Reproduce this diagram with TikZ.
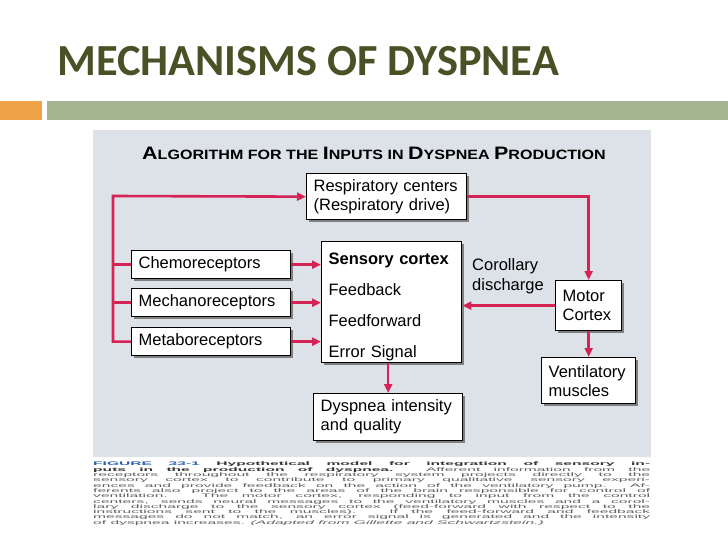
\documentclass[tikz,border=0pt]{standalone}
\usepackage{fontspec}
\setmainfont{Liberation Sans}
\newfontfamily\titlefont{Carlito}
\newfontfamily\headfont[FakeStretch=1.19]{Liberation Sans}
\newfontfamily\capfont[FakeStretch=3.0]{Liberation Sans}
\usetikzlibrary{arrows.meta,shadows}

\definecolor{titleolive}{RGB}{73,82,38}
\definecolor{barorange}{RGB}{240,162,72}
\definecolor{bargreen}{RGB}{165,181,146}
\definecolor{panelgray}{RGB}{220,226,231}
\definecolor{linkred}{RGB}{214,35,85}
\definecolor{figblue}{RGB}{45,95,175}
\definecolor{captext}{RGB}{95,95,95}

\newcommand{\capword}[2]{{\fontsize{18}{18}\selectfont #1}{\fontsize{13.5}{13.5}\selectfont #2}}
\newcommand{\capline}[1]{\makebox[557pt][s]{#1}}

\begin{document}
\begin{tikzpicture}[x=1pt,y=-1pt,
  box/.style={draw=black,line width=1.3pt,fill=white,
    drop shadow={shadow xshift=2pt,shadow yshift=-2pt,fill=black!50,opacity=1},
    font=\fontsize{16.5}{19}\selectfont,align=left,
    inner xsep=7pt,inner ysep=0pt,anchor=north west},
  link/.style={draw=linkred,line width=2.6pt},
  linkarrow/.style={link,-{Triangle[length=9pt,width=8pt]}}]
  \useasboundingbox (0,0) rectangle (728,546);
  \fill[white] (0,0) rectangle (728,546);

  % slide heading and bars
  \node[anchor=base west,inner sep=0,text=titleolive,
    font=\titlefont\bfseries\fontsize{44.4}{44.4}\selectfont] (title) at (57,75)
    {MECHANISMS OF DYSPNEA};
  \fill[barorange] (0,101) rectangle (42,120);
  \fill[bargreen] (47,101) rectangle (728,120);

  % figure panel
  \fill[panelgray] (93,130) rectangle (651,457);
  \node[anchor=base,inner sep=0,font=\headfont\bfseries] (heading) at (374,159)
    {\capword{A}{LGORITHM FOR THE }\capword{I}{NPUTS IN }\capword{D}{YSPNEA }\capword{P}{RODUCTION}};

  \node[box,text width=146pt,minimum height=46pt] (resp) at (306,173)
    {Respiratory centers\\(Respiratory drive)};
  \node[box,text width=126pt,minimum height=121pt,
    font=\fontsize{16.5}{31}\selectfont] (sens) at (321,241)
    {\rule{0pt}{22pt}\textbf{Sensory cortex}\\Feedback\\Feedforward\\Error Signal};
  \node[box,text width=145pt,minimum height=28pt] (chemo) at (131,250) {Chemoreceptors};
  \node[box,text width=145pt,minimum height=28pt] (mech) at (131,288) {Mechanoreceptors};
  \node[box,text width=145pt,minimum height=28pt] (meta) at (131,327) {Metaboreceptors};
  \node[box,text width=52pt,minimum height=50pt] (motor) at (555,280) {Motor\\Cortex};
  \node[box,text width=80pt,minimum height=46pt] (vent) at (541,357) {Ventilatory\\muscles};
  \node[box,text width=135pt,minimum height=47pt] (dysp) at (313,393)
    {Dyspnea intensity\\and quality};
  \node[anchor=north west,inner sep=0,align=left,
    font=\fontsize{16.5}{20}\selectfont] (corollary) at (472,258)
    {Corollary\\discharge};

  \coordinate (trunk) at (113,196);
  \draw[linkarrow] (meta.west) -| (trunk) -- (resp.west);
  \draw[link] (chemo.west) -- (chemo.west -| trunk);
  \draw[link] (mech.west) -- (mech.west -| trunk);
  \draw[linkarrow] (chemo.east) -- (chemo.east -| sens.west);
  \draw[linkarrow] (mech.east) -- (mech.east -| sens.west);
  \draw[linkarrow] (meta.east) -- (meta.east -| sens.west);
  \draw[linkarrow] (resp.east) -| (motor.north);
  \draw[linkarrow] (motor.south) -- (vent.north);
  \draw[linkarrow] (motor.west) -- (motor.west -| sens.east);
  \draw[linkarrow] (sens.south -| dysp.north) -- (dysp.north);

  % caption under the figure
  \node[anchor=north west,inner sep=0,align=left,text=captext,
    font=\capfont\fontsize{5.2}{5.3}\selectfont] (caption) at (93,462)
    {\capline{\textcolor{figblue}{\textbf{FIGURE 33-1}} \textbf{\textcolor{black!80}{Hypothetical model for integration of sensory in-}}}\\
     \capline{\textbf{\textcolor{black!80}{puts in the production of dyspnea.}} Afferent information from the}\\
     \capline{receptors throughout the respiratory system projects directly to the}\\
     \capline{sensory cortex to contribute to primary qualitative sensory experi-}\\
     \capline{ences and provide feedback on the action of the ventilatory pump. Af-}\\
     \capline{ferents also project to the areas of the brain responsible for control of}\\
     \capline{ventilation. The motor cortex, responding to input from the control}\\
     \capline{centers, sends neural messages to the ventilatory muscles and a corol-}\\
     \capline{lary discharge to the sensory cortex (feed-forward with respect to the}\\
     \capline{instructions sent to the muscles). If the feed-forward and feedback}\\
     \capline{messages do not match, an error signal is generated and the intensity}\\
     of dyspnea increases. \textit{(Adapted from Gillette and Schwartzstein.)}};
\end{tikzpicture}
\end{document}
